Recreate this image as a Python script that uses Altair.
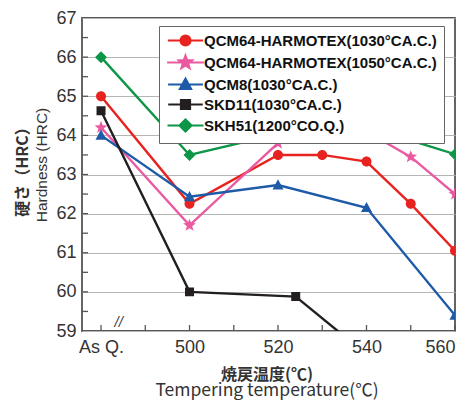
import math
import altair as alt
import pandas as pd

# ---------------- data (480 on the x scale stands for "As Q.") ----------------
series = ["QCM64-HARMOTEX(1030°CA.C.)", "QCM64-HARMOTEX(1050°CA.C.)",
          "QCM8(1030°CA.C.)", "SKD11(1030°CA.C.)", "SKH51(1200°CO.Q.)"]
colors = ["#e8231f", "#e95aa0", "#1d5ba8", "#231f20", "#0d9648"]
marker_sizes = [138, 150, 135, 133, 144]

temps_qcm64_1030 = [480, 500, 520, 530, 540, 550, 560]
hrc_qcm64_1030 = [65.0, 62.25, 63.5, 63.5, 63.33, 62.25, 61.05]
temps_qcm64_1050 = [480, 500, 520, 530, 540, 550, 560]
hrc_qcm64_1050 = [64.2, 61.7, 63.8, 64.0, 64.1, 63.45, 62.5]
temps_qcm8 = [480, 500, 520, 540, 560]
hrc_qcm8 = [64.0, 62.43, 62.73, 62.15, 59.4]
temps_skd11 = [480, 500, 524, 540]
hrc_skd11 = [64.63, 60.0, 59.88, 58.4]
temps_skh51 = [480, 500, 520, 540, 560]
hrc_skh51 = [66.0, 63.5, 64.03, 64.22, 63.52]

x_label_values = [480, 500, 520, 540, 560]
x_minor_ticks = [480, 490, 500, 510, 520, 530, 540, 550, 560]
y_label_values = [59, 60, 61, 62, 63, 64, 65, 66, 67]
y_minor_ticks = [59.5, 60, 60.5, 61, 61.5, 62, 62.5, 63, 63.5, 64, 64.5,
                 65, 65.5, 66, 66.5]
x_domain = [475.7, 560]
y_domain = [59, 67]
break_pos = [484]

# ---------------- tables ----------------
all_t = [temps_qcm64_1030, temps_qcm64_1050, temps_qcm8, temps_skd11, temps_skh51]
all_h = [hrc_qcm64_1030, hrc_qcm64_1050, hrc_qcm8, hrc_skd11, hrc_skh51]
rows = []
for s, ts, hs in zip(series, all_t, all_h):
    for t, h in zip(ts, hs):
        rows.append({"series": s, "temp": t, "hrc": h})
df = pd.DataFrame(rows)

# marker paths (unit coords). Each also carries a thin horizontal stroke-only
# segment: invisible on the unstroked plot markers, drawn in the legend where
# the symbols are stroked with the line colour.
dash = "M-3,0L3,0"
star_pts = []
for i in range(10):
    a = math.radians(-90 + 36 * i)
    rad = 1.1 if i % 2 == 0 else 0.46
    star_pts.append((rad * math.cos(a), rad * math.sin(a)))
star = "M" + "L".join(f"{x:.3f},{y:.3f}" for x, y in star_pts) + "Z"
shapes = [
    "M0.85,0A0.85,0.85 0 1,1 -0.85,0A0.85,0.85 0 1,1 0.85,0Z" + dash,
    star + dash,
    "M0,-1L0.95,0.75L-0.95,0.75Z" + dash,
    "M-0.78,-0.78L0.78,-0.78L0.78,0.78L-0.78,0.78Z" + dash,
    "M0,-1L1,0L0,1L-1,0Z" + dash,
]

xs = alt.Scale(domain=x_domain, nice=False, zero=False)
ys = alt.Scale(domain=y_domain, nice=False, zero=False)

x_axis = alt.Axis(values=x_label_values,
                  labelExpr="datum.value == 480 ? 'As Q.' : datum.label",
                  grid=False, domain=False, ticks=False, labelOverlap=False,
                  labelFontSize=18, labelPadding=7,
                  labelColor="#333", labelFont="Liberation Sans")
y_axis = alt.Axis(values=y_label_values, grid=True, gridColor="#b5b5b5",
                  gridWidth=1.2, domain=False, ticks=False,
                  labelFontSize=18, labelPadding=6, labelOverlap=False,
                  labelColor="#333", labelFont="Liberation Sans")

def X(f):
    return alt.X(f, scale=xs, title=None, axis=x_axis)

def Y(f):
    return alt.Y(f, scale=ys, title=None, axis=y_axis)

legend = alt.Legend(
    title=None, orient="none", legendX=77, legendY=8,
    fillColor="white", strokeColor="#666",
    padding=7, rowPadding=1, symbolSize=100, symbolStrokeWidth=2.2,
    symbolOffset=12, labelOffset=11,
    labelFont="Liberation Sans", labelFontWeight="bold", labelFontSize=15,
    labelColor="#111", labelLimit=400,
)

base = alt.Chart(df)
lines = base.mark_line(strokeWidth=2.4, clip=True).encode(
    x=X("temp:Q"), y=Y("hrc:Q"),
    color=alt.Color("series:N", scale=alt.Scale(domain=series, range=colors),
                    legend=legend),
    order="temp:Q",
)
points = base.mark_point(filled=True, opacity=1, clip=True).encode(
    x=X("temp:Q"), y=Y("hrc:Q"),
    fill=alt.Fill("series:N", scale=alt.Scale(domain=series, range=colors),
                  legend=legend),
    shape=alt.Shape("series:N", scale=alt.Scale(domain=series, range=shapes),
                    legend=legend),
    size=alt.Size("series:N", scale=alt.Scale(type="ordinal", domain=series,
                                              range=marker_sizes), legend=None),
)

ytick_df = pd.DataFrame({"v": y_minor_ticks})
xtick_df = pd.DataFrame({"v": x_minor_ticks})
yticks = alt.Chart(ytick_df).mark_rule(color="#555", strokeWidth=1.3).encode(
    y=Y("v:Q"), x=alt.value(0), x2=alt.value(6))
xticks = alt.Chart(xtick_df).mark_rule(color="#555", strokeWidth=1.3).encode(
    x=X("v:Q"), y=alt.value(313), y2=alt.value(307))
brk = alt.Chart(pd.DataFrame({"v": break_pos, "y": [59], "t": ["//"]})).mark_text(
    fontSize=15, fontStyle="italic", baseline="bottom", color="#444", dy=-1,
    font="Liberation Sans"
).encode(x=X("v:Q"), y=Y("y:Q"), text="t:N")

yt1 = alt.Chart(pd.DataFrame({"t": ["硬さ（HRC）"]})).mark_text(
    angle=270, fontSize=16, fontWeight="bold", font="Noto Sans CJK JP", color="#333").encode(
    x=alt.value(-59), y=alt.value(150), text="t:N")
yt2 = alt.Chart(pd.DataFrame({"t": ["Hardness (HRC)"]})).mark_text(
    angle=270, fontSize=15.5, font="Liberation Sans", color="#333").encode(
    x=alt.value(-40), y=alt.value(147), text="t:N")
xt1 = alt.Chart(pd.DataFrame({"t": ["焼戻温度(℃)"]})).mark_text(
    fontSize=16, fontWeight="bold", font="Noto Sans CJK JP", color="#333").encode(
    x=alt.value(185), y=alt.value(357), text="t:N")
xt2 = alt.Chart(pd.DataFrame({"t": ["Tempering temperature(℃)"]})).mark_text(
    fontSize=17.5, font="Noto Sans CJK JP", color="#333").encode(
    x=alt.value(185), y=alt.value(373), text="t:N")

chart = alt.layer(
    lines, points, yticks, xticks, brk, yt1, yt2, xt1, xt2
).properties(
    width=373, height=313,
    autosize=alt.AutoSizeParams(type="none"),
    padding={"left": 74, "top": 10, "right": 8, "bottom": 70},
).configure_view(stroke="#555", strokeWidth=1.8)

chart.save("out.html", embed_options={"renderer": "svg", "actions": False})
